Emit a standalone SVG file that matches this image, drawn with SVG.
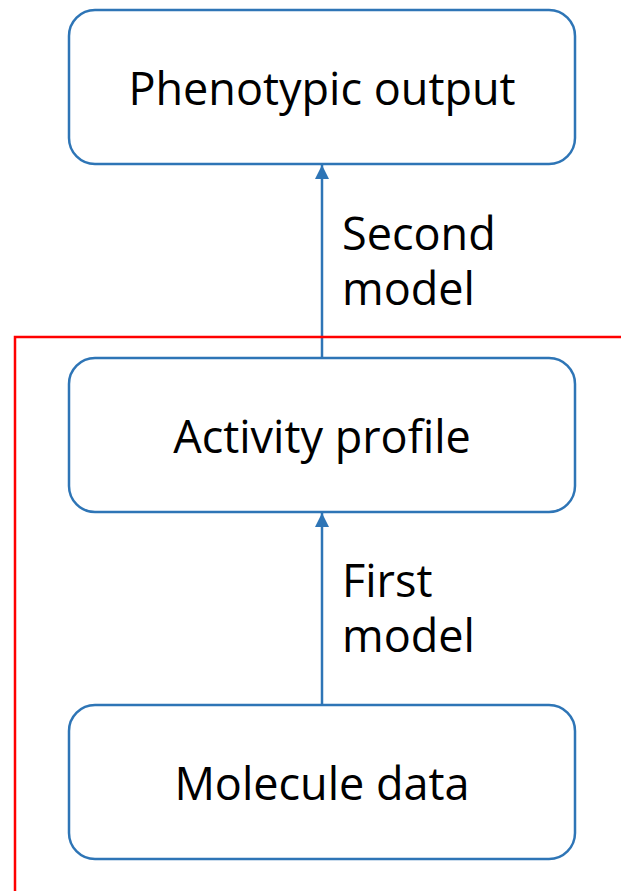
<svg xmlns="http://www.w3.org/2000/svg" width="621" height="891" viewBox="0 0 621 891">
  <style>
    .box { fill: #ffffff; stroke: #2e75b6; stroke-width: 2.5; }
    .lbl { font-family: "Open Sans", "Noto Sans", sans-serif; font-size: 45px; fill: #000000; }
    .edge { stroke: #2e75b6; stroke-width: 2.5; fill: none; }
  </style>
  <defs>
    <marker id="arrow" markerWidth="14" markerHeight="14" refX="10" refY="5" orient="auto" markerUnits="userSpaceOnUse" viewBox="0 0 10 10">
      <path d="M0,0 L10,5 L0,10 z" fill="#2e75b6"/>
    </marker>
  </defs>
  <rect width="621" height="891" fill="#ffffff"/>

  <g id="connectors">
    <line class="edge" x1="322" y1="358" x2="322" y2="165" marker-end="url(#arrow)"/>
    <line class="edge" x1="322" y1="705" x2="322" y2="513" marker-end="url(#arrow)"/>
    <text class="lbl" x="342" y="250">Second</text>
    <text class="lbl" x="342" y="305">model</text>
    <text class="lbl" x="342" y="597">First</text>
    <text class="lbl" x="342" y="652">model</text>
  </g>

  <g id="boundary">
    <polyline points="15,891 15,337 621,337" fill="none" stroke="#ff0000" stroke-width="2.5"/>
  </g>

  <g id="phenotypic-output">
    <rect class="box" x="69" y="10" width="506" height="154" rx="26"/>
    <text class="lbl" x="322" y="105" text-anchor="middle">Phenotypic output</text>
  </g>
  <g id="activity-profile">
    <rect class="box" x="69" y="358" width="506" height="154" rx="26"/>
    <text class="lbl" x="322" y="453" text-anchor="middle">Activity profile</text>
  </g>
  <g id="molecule-data">
    <rect class="box" x="69" y="705" width="506" height="154" rx="26"/>
    <text class="lbl" x="322" y="800" text-anchor="middle">Molecule data</text>
  </g>
</svg>
